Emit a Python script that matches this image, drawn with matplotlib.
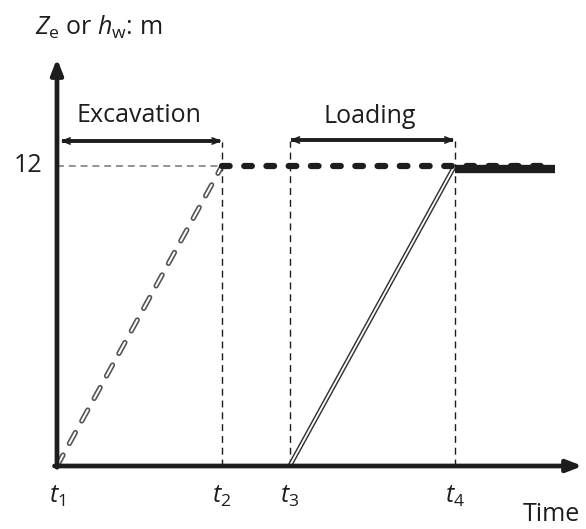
import numpy as np
import matplotlib.pyplot as plt

plt.rcParams['font.family'] = 'Open Sans'
plt.rcParams['mathtext.fontset'] = 'custom'
plt.rcParams['mathtext.rm'] = 'Open Sans'
plt.rcParams['mathtext.it'] = 'Open Sans:italic'
plt.rcParams['lines.scale_dashes'] = False

# time marks and levels
t_marks = [0.0, 2.0, 2.82, 4.82]
t_labels = [r'$t_1$', r'$t_2$', r'$t_3$', r'$t_4$']
t_end = 6.04
level = 12
y_labels = ['12']

t1, t2, t3, t4 = t_marks

fig = plt.figure(figsize=(5.86, 5.29), dpi=100)
ax = fig.add_axes([0, 0, 1, 1])
ax.set_xlim(-57 / 82.5, (586 - 57) / 82.5)
ax.set_ylim((466 - 529) / 25, 466 / 25)
ax.axis('off')

ink = '#1f1c1d'
fs = 18

# axes with arrows
ax.annotate('', xy=(6.37, 0), xytext=(-0.03, 0),
            arrowprops=dict(arrowstyle='-|>,head_length=0.9,head_width=0.35', lw=3.4, color=ink, shrinkA=0, shrinkB=0))
ax.annotate('', xy=(0, 16.3), xytext=(0, -0.05),
            arrowprops=dict(arrowstyle='-|>,head_length=0.9,head_width=0.35', lw=3.4, color=ink, shrinkA=0, shrinkB=0))

# guide lines
ax.plot([0, t2], [level, level], color='#808080', lw=1.2, dashes=(5, 3.5))
ax.plot([t2, t2], [0, 12.95], color=ink, lw=1.0, dashes=(5, 3.5))
ax.plot([t3, t3], [0, 13.0], color=ink, lw=1.0, dashes=(5, 3.5))
ax.plot([t4, t4], [0, 13.0], color=ink, lw=1.0, dashes=(5, 3.5))

# excavation: hollow dashed ramp
ax.plot([t1, t2], [0, level], color='#555555', lw=3.8, dashes=(9, 9.5), dash_capstyle='round')
ax.plot([t1, t2], [0, level], color='white', lw=1.4, dashes=(9, 9.5), dash_capstyle='round')

# loading: double line ramp
ax.plot([t3, t4], [0, level], color='#333333', lw=3.4, solid_capstyle='butt')
ax.plot([t3, t4], [0, level], color='white', lw=1.3, solid_capstyle='butt')

# held level
ax.plot([t4, t_end], [level - 0.12, level - 0.12], color=ink, lw=6.0, solid_capstyle='butt')
ax.plot([t2, t_end], [level, level], color=ink, lw=4.5, dashes=(5.5, 10.5), dash_capstyle='round')

# phase arrows
def span_arrow(x0, x1, y):
    ax.plot([x0 + 0.02, x1 - 0.02], [y, y], color=ink, lw=2.8, solid_capstyle='butt')
    ax.annotate('', xy=(x0, y), xytext=(x1, y),
                arrowprops=dict(arrowstyle='<->,head_length=0.55,head_width=0.22', lw=1.2,
                                color=ink, shrinkA=0, shrinkB=0))

span_arrow(0.04, t2, 13.0)
span_arrow(t3, t4, 13.04)
ax.text(0.994, 13.76, 'Excavation', ha='center', va='baseline', fontsize=fs, color=ink)
ax.text(3.79, 13.72, 'Loading', ha='center', va='baseline', fontsize=fs, color=ink)

# labels
for t, lab in zip(t_marks, t_labels):
    ax.text(t, -1.48, lab, ha='center', va='baseline', fontsize=fs, color=ink)
ax.text(-0.18, 12.04, y_labels[0], ha='right', va='center', fontsize=fs, color=ink)
ax.text(6.34, -2.2, 'Time', ha='right', va='baseline', fontsize=fs, color=ink)
ax.text(-0.267, 17.24, r'$Z_\mathrm{e}$ or $h_\mathrm{w}$: m', ha='left', va='baseline', fontsize=fs, color=ink)

fig.savefig('out.png', dpi=100)
